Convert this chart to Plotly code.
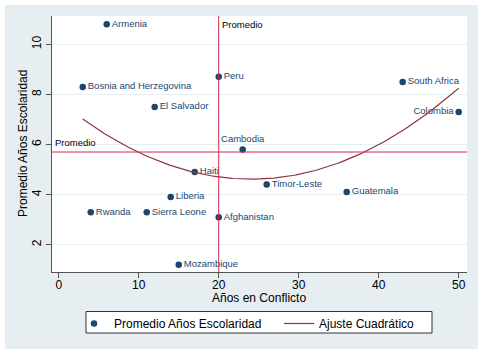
import numpy as np
import plotly.graph_objects as go

countries = ["Armenia", "Bosnia and Herzegovina", "El Salvador", "Peru", "Cambodia",
             "South Africa", "Colombia", "Haiti", "Liberia", "Rwanda", "Sierra Leone",
             "Afghanistan", "Mozambique", "Timor-Leste", "Guatemala"]
anos_conflicto = [6, 3, 12, 20, 23, 43, 50, 17, 14, 4, 11, 20, 15, 26, 36]
promedio_escolaridad = [10.8, 8.3, 7.5, 8.7, 5.8, 8.5, 7.3, 4.9, 3.9, 3.3, 3.3, 3.1, 1.2, 4.4, 4.1]
label_positions = ["middle right"] * 15
label_positions[countries.index("Colombia")] = "middle left"
label_positions[countries.index("Cambodia")] = "top center"

promedio_x = 20
promedio_y = 5.7

x_ticks = [0, 10, 20, 30, 40, 50]
y_ticks = [2, 4, 6, 8, 10]

# quadratic fit of the data (Stata qfit)
coef = np.polyfit(anos_conflicto, promedio_escolaridad, 2)
xf = np.linspace(min(anos_conflicto), max(anos_conflicto), 200)
yf = np.polyval(coef, xf)

navy = "#1a476f"
maroon = "#90353b"
redline = "#d3294f"
bg = "#e6eef1"
font = "Liberation Sans, Arial, sans-serif"

fig = go.Figure()
fig.add_trace(go.Scatter(
    x=anos_conflicto, y=promedio_escolaridad, mode="markers+text",
    text=countries, textposition=label_positions,
    textfont=dict(size=9.5, color=navy, family=font),
    marker=dict(size=6.5, color=navy),
    name="Promedio Años Escolaridad", cliponaxis=False))
fig.add_trace(go.Scatter(
    x=xf, y=yf, mode="lines", line=dict(color=maroon, width=1.2),
    name="Ajuste Cuadrático"))

# white outer border (paper is the light blue-grey background)
W, H = 415.0, 256.0
def px_x(p):
    return (p - 52) / W
def px_y(p):
    return (272 - p) / H
for (a, b, c, d) in [(0, 484, 0, 5), (0, 484, 349, 354), (0, 5, 0, 354), (478, 484, 0, 354)]:
    fig.add_shape(type="rect", xref="paper", yref="paper", x0=px_x(a), x1=px_x(b),
                  y0=px_y(d), y1=px_y(c), fillcolor="white", line_width=0, layer="above")
# legend box
fig.add_shape(type="rect", xref="paper", yref="paper", x0=px_x(86), x1=px_x(432),
              y0=px_y(333), y1=px_y(311.5), fillcolor="white",
              line=dict(color="#333333", width=1), layer="below")
# promedio lines
fig.add_shape(type="line", xref="x", yref="paper", x0=promedio_x, x1=promedio_x, y0=0, y1=1,
              line=dict(color=redline, width=1))
fig.add_shape(type="line", xref="paper", yref="y", x0=0, x1=1, y0=promedio_y, y1=promedio_y,
              line=dict(color=redline, width=1))

fig.add_annotation(x=promedio_x, y=1, xref="x", yref="paper", text="Promedio",
                   showarrow=False, xanchor="left", yanchor="top", xshift=1, yshift=-1,
                   font=dict(size=9.5, color="black", family=font))
fig.add_annotation(x=0, y=promedio_y, xref="paper", yref="y", text="Promedio",
                   showarrow=False, xanchor="left", yanchor="bottom", xshift=1, yshift=2,
                   font=dict(size=9.5, color="black", family=font))
fig.add_annotation(x=25, y=px_y(298), xref="x", yref="paper", text="Años en Conflicto",
                   showarrow=False, xanchor="center", yanchor="middle",
                   font=dict(size=12, color="black", family=font))
fig.add_annotation(x=px_x(23), y=0.5, xref="paper", yref="paper", text="Promedio Años Escolaridad",
                   showarrow=False, textangle=-90, xanchor="center", yanchor="middle",
                   font=dict(size=12, color="black", family=font))

fig.update_layout(
    width=484, height=354,
    margin=dict(l=52, r=17, t=16, b=82, autoexpand=False),
    paper_bgcolor=bg, plot_bgcolor="white",
    font=dict(family=font, size=12, color="black"),
    showlegend=True,
    legend=dict(orientation="h", x=px_x(74), y=px_y(309), xanchor="left", yanchor="top",
                bgcolor="rgba(0,0,0,0)", borderwidth=0,
                font=dict(size=12, family=font, color="black"),
                entrywidth=160, entrywidthmode="pixels"),
    xaxis=dict(range=[-0.84, 51.04], tickvals=x_ticks, showgrid=False, zeroline=False,
               showline=True, linecolor="#555555", linewidth=1, ticks="outside",
               ticklen=5, tickcolor="#555555", tickfont=dict(size=12), automargin=False,
               ticklabelstandoff=-3),
    yaxis=dict(range=[0.91, 11.13], tickvals=y_ticks, showgrid=True, gridcolor="#e6eff1",
               gridwidth=1, zeroline=False, showline=True, linecolor="#555555", linewidth=1,
               ticks="outside", ticklen=5, tickcolor="#555555", tickangle=-90,
               tickfont=dict(size=12), automargin=False),
)

fig.write_html("out.html", config={"displayModeBar": False},
               post_script="document.body.style.margin='0';document.body.style.overflow='hidden';")
